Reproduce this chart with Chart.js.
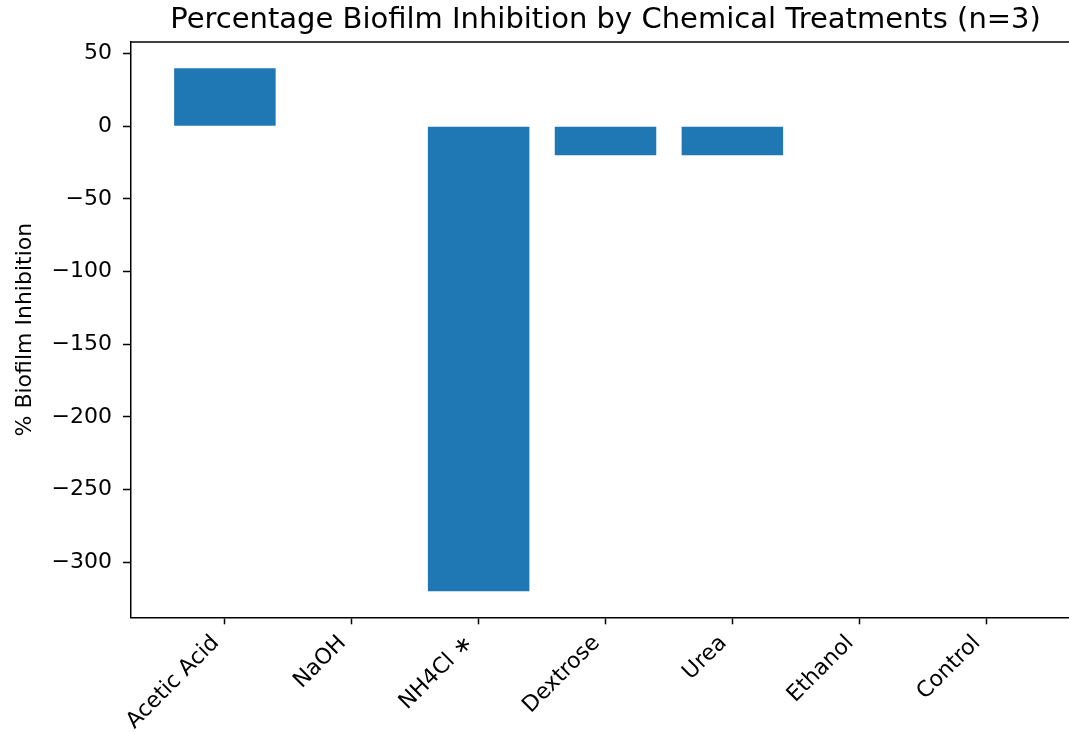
<!DOCTYPE html>
<html>
<head>
<meta charset="utf-8">
<script src="https://cdn.jsdelivr.net/npm/chart.js@4.4.1/dist/chart.umd.min.js"></script>
<style>
  html, body { margin: 0; padding: 0; background: #fff; overflow: hidden; }
  #wrap { position: relative; width: 1210px; height: 732px; }
</style>
</head>
<body>
<div id="wrap"><canvas id="chart"></canvas></div>
<script>
// Treatments and their mean % biofilm inhibition (n=3)
const categories = ['Acetic Acid', 'NaOH', 'NH4Cl \u2217', 'Dextrose', 'Urea', 'Ethanol', 'Control'];
const inhibition = [40, 0, -320, -20, -20, 0, 0];
const yTicks = [50, 0, -50, -100, -150, -200, -250, -300];

const chartTitle = 'Percentage Biofilm Inhibition by Chemical Treatments (n=3)';
const yAxisTitle = '% Biofilm Inhibition';

const FONT = "'DejaVu Sans', sans-serif";
const INK = '#000000';

// Title centred over the plot area, plus the top frame line
const framePlugin = {
  id: 'frame',
  afterDraw(chart) {
    const { ctx, chartArea: a } = chart;
    ctx.save();
    ctx.strokeStyle = INK;
    ctx.lineWidth = 1.5;
    ctx.beginPath();
    ctx.moveTo(a.left, a.top);
    ctx.lineTo(a.right, a.top);
    ctx.stroke();
    ctx.fillStyle = INK;
    ctx.font = `29px ${FONT}`;
    ctx.textAlign = 'center';
    ctx.textBaseline = 'alphabetic';
    ctx.fillText(chartTitle, (a.left + a.right) / 2, 28);
    ctx.restore();
  }
};

new Chart(document.getElementById('chart'), {
  type: 'bar',
  data: {
    datasets: [{
      data: inhibition.map((v, i) => ({ x: i, y: v })),
      backgroundColor: '#1f77b4',
      borderWidth: 0,
      categoryPercentage: 1.0,
      barPercentage: 0.8
    }]
  },
  options: {
    responsive: true,
    maintainAspectRatio: false,
    animation: false,
    layout: { padding: { top: 42, left: 0, right: 130, bottom: 0 } },
    plugins: {
      legend: { display: false },
      title: { display: false },
      tooltip: { enabled: false }
    },
    scales: {
      x: {
        type: 'linear',
        offset: false,
        min: -0.74,
        max: 6.74,
        afterBuildTicks: (s) => { s.ticks = categories.map((_, i) => ({ value: i })); },
        afterFit: (s) => { s.height = 114.7; },
        ticks: {
          autoSkip: false,
          minRotation: 45,
          maxRotation: 45,
          padding: 6,
          labelOffset: -9,
          color: INK,
          font: { family: FONT, size: 22 },
          callback: (v) => categories[v]
        },
        grid: { offset: false, drawOnChartArea: false, drawTicks: true, tickLength: 7, tickWidth: 1.5, color: INK },
        border: { display: true, color: INK, width: 1.5 }
      },
      y: {
        min: -338,
        max: 58,
        afterBuildTicks: (s) => { s.ticks = yTicks.map(v => ({ value: v })); },
        afterFit: (s) => { s.width = 131; },
        ticks: {
          padding: 11,
          color: INK,
          font: { family: FONT, size: 22 },
          callback: (v) => String(v).replace('-', '\u2212')
        },
        grid: { drawOnChartArea: false, drawTicks: true, tickLength: 8, tickWidth: 1.5, color: INK },
        border: { display: true, color: INK, width: 1.5 },
        title: {
          display: true,
          text: yAxisTitle,
          color: INK,
          font: { family: FONT, size: 22 },
          padding: { top: 12, bottom: 0 }
        }
      }
    }
  },
  plugins: [framePlugin]
});
</script>
</body>
</html>
